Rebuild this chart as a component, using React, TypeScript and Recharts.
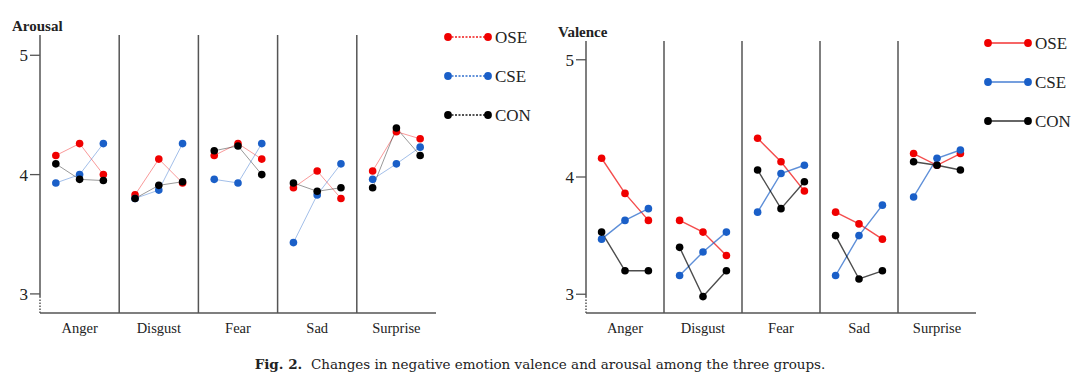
import { Line, LineChart, ReferenceLine, XAxis, YAxis } from "recharts";

const categories = ["Anger", "Disgust", "Fear", "Sad", "Surprise"];
const groups = ["OSE", "CSE", "CON"];
const groupColors = ["#f00000", "#1a5fc8", "#000000"];
const yTicks = [3, 4, 5];

// three time points per category, categories in order
const arousalOSE = [4.16, 4.26, 4.0, 3.83, 4.13, 3.93, 4.16, 4.26, 4.13, 3.89, 4.03, 3.8, 4.03, 4.36, 4.3];
const arousalCSE = [3.93, 4.0, 4.26, 3.8, 3.87, 4.26, 3.96, 3.93, 4.26, 3.43, 3.83, 4.09, 3.96, 4.09, 4.23];
const arousalCON = [4.09, 3.96, 3.95, 3.8, 3.91, 3.94, 4.2, 4.24, 4.0, 3.93, 3.86, 3.89, 3.89, 4.39, 4.16];

const valenceOSE = [4.16, 3.86, 3.63, 3.63, 3.53, 3.33, 4.33, 4.13, 3.88, 3.7, 3.6, 3.47, 4.2, 4.1, 4.2];
const valenceCSE = [3.47, 3.63, 3.73, 3.16, 3.36, 3.53, 3.7, 4.03, 4.1, 3.16, 3.5, 3.76, 3.83, 4.16, 4.23];
const valenceCON = [3.53, 3.2, 3.2, 3.4, 2.98, 3.2, 4.06, 3.73, 3.96, 3.5, 3.13, 3.2, 4.13, 4.1, 4.06];

const offsets = [0.2, 0.5, 0.8];

function buildRows(series: number[][]) {
  const rows: Record<string, number | null>[] = [];
  categories.forEach((_, c) => {
    offsets.forEach((o, i) => {
      const row: Record<string, number | null> = { x: c + o };
      groups.forEach((g, s) => (row[g] = series[s][c * 3 + i]));
      rows.push(row);
    });
    if (c < categories.length - 1) {
      const gap: Record<string, number | null> = { x: c + 1 };
      groups.forEach((g) => (gap[g] = null));
      rows.push(gap);
    }
  });
  return rows;
}

const serif = "'Liberation Serif', 'Times New Roman', serif";
const axisColor = "#555";
const textColor = "#222";

function LegendBox({ dotted }: { dotted: boolean }) {
  return (
    <svg width={100} height={100}>
      {groups.map((g, i) => {
        const y = 11 + i * 39;
        return (
          <g key={g}>
            <line x1={8} x2={48} y1={y} y2={y} stroke={groupColors[i]} strokeWidth={1.3}
              strokeDasharray={dotted ? "2 1.5" : undefined} strokeOpacity={dotted ? 0.9 : 0.8} />
            <circle cx={8} cy={y} r={3.9} fill={groupColors[i]} />
            <circle cx={48} cy={y} r={3.9} fill={groupColors[i]} />
            <text x={55} y={y + 5.5} fontSize={17} fontFamily={serif} fill={textColor}>{g}</text>
          </g>
        );
      })}
    </svg>
  );
}

function Panel({ title, series, top, yLeft, domain, faint }: {
  title: string; series: number[][]; top: number; yLeft: number; domain: [number, number]; faint: boolean;
}) {
  const rows = buildRows(series);
  const height = 340;
  return (
    <div style={{ position: "relative", width: 540, height }}>
      <div style={{ position: "absolute", left: yLeft - 28, top: top - 17, fontFamily: serif, fontWeight: "bold", fontSize: 15, color: textColor }}>
        {title}
      </div>
      <LineChart width={540} height={height} data={rows} margin={{ top, right: 104, bottom: 2, left: 0 }}>
        <XAxis dataKey="x" type="number" domain={[0, 5]} ticks={[0.5, 1.5, 2.5, 3.5, 4.5]}
          tickFormatter={(v: number) => categories[Math.floor(v)]} height={25}
          tickLine={false} tickSize={8} axisLine={{ stroke: axisColor, strokeWidth: 1.5 }}
          tick={{ fontFamily: serif, fontSize: 14.5, fill: textColor }} />
        <YAxis type="number" domain={domain} ticks={yTicks} width={yLeft} axisLine={false}
          tickLine={{ stroke: axisColor, strokeWidth: 1.3 }} tickSize={10}
          tick={{ fontFamily: serif, fontSize: 17, fill: textColor }} allowDataOverflow />
        <ReferenceLine segment={[{ x: 0, y: 2.97 }, { x: 0, y: domain[1] }]} stroke={axisColor} strokeWidth={1.5} />
        <ReferenceLine segment={[{ x: 0, y: domain[0] }, { x: 0, y: 2.97 }]} stroke={axisColor} strokeWidth={1.5} strokeDasharray="1.5 1.5" />
        {[1, 2, 3, 4].map((x) => (
          <ReferenceLine key={x} x={x} stroke={axisColor} strokeWidth={1.5} />
        ))}
        {groups.map((g, i) => (
          <Line key={g} dataKey={g} stroke={groupColors[i]} strokeWidth={faint ? 1 : 1.4}
            strokeOpacity={faint ? 0.4 : 0.7} connectNulls={false} isAnimationActive={false}
            dot={{ r: 3.8, fill: groupColors[i], stroke: "none", fillOpacity: 1 }} activeDot={false} />
        ))}
      </LineChart>
      <div style={{ position: "absolute", left: 440, top: top - 9 }}>
        <LegendBox dotted={faint} />
      </div>
    </div>
  );
}

export default function App() {
  return (
    <div style={{ position: "absolute", left: 0, top: 0, width: 1080, height: 384, background: "#fff" }}>
      <div style={{ position: "absolute", left: 0, top: 0 }}>
        <Panel title="Arousal" series={[arousalOSE, arousalCSE, arousalCON]} top={35} yLeft={40} domain={[2.84, 5.17]} faint />
      </div>
      <div style={{ position: "absolute", left: 540, top: 0 }}>
        <Panel title="Valence" series={[valenceOSE, valenceCSE, valenceCON]} top={41} yLeft={46} domain={[2.84, 5.16]} faint={false} />
      </div>
      <div style={{ position: "absolute", left: 0, top: 356, width: 1080, textAlign: "center", fontFamily: "'DejaVu Serif', serif", fontSize: 13.5, color: textColor }}>
        <b>Fig. 2.</b>&nbsp; Changes in negative emotion valence and arousal among the three groups.
      </div>
    </div>
  );
}
